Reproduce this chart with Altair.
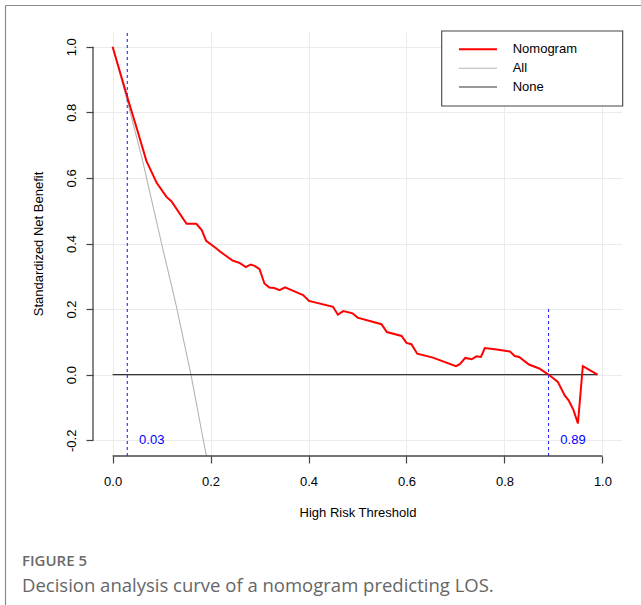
import altair as alt
import pandas as pd

# ---------------- data ----------------
nomo_x = [0.000, 0.032, 0.049, 0.069, 0.090, 0.110, 0.120, 0.151, 0.171, 0.182,
          0.191, 0.212, 0.220, 0.232, 0.245, 0.260, 0.272, 0.282, 0.290, 0.300,
          0.310, 0.320, 0.330, 0.341, 0.352, 0.389, 0.401, 0.450, 0.460, 0.471,
          0.490, 0.500, 0.549, 0.560, 0.590, 0.600, 0.610, 0.622, 0.654, 0.701,
          0.709, 0.720, 0.733, 0.743, 0.752, 0.760, 0.784, 0.811, 0.821, 0.830,
          0.850, 0.871, 0.886, 0.894, 0.909, 0.923, 0.931, 0.941, 0.950, 0.960,
          0.990]
nomo_y = [1.000, 0.837, 0.753, 0.652, 0.585, 0.542, 0.529, 0.460, 0.460, 0.441,
          0.408, 0.385, 0.375, 0.362, 0.348, 0.340, 0.328, 0.336, 0.332, 0.322,
          0.278, 0.266, 0.264, 0.258, 0.266, 0.243, 0.225, 0.207, 0.183, 0.194,
          0.187, 0.174, 0.154, 0.130, 0.118, 0.097, 0.093, 0.064, 0.052, 0.026,
          0.032, 0.051, 0.047, 0.056, 0.054, 0.081, 0.077, 0.071, 0.057, 0.054,
          0.031, 0.019, 0.004, -0.004, -0.022, -0.063, -0.078, -0.108, -0.149, 0.026,
          0.000]

all_x = [0.000, 0.030, 0.060, 0.100, 0.130, 0.160, 0.184, 0.200]
all_y = [1.000, 0.835, 0.660, 0.400, 0.210, 0.000, -0.190, -0.310]

none_x = [0.000, 0.990]
none_y = [0.000, 0.000]

cut_x = [0.03, 0.89]
cut_top = [1.048, 0.2]
cut_label = ["0.03", "0.89"]
cut_label_x = [0.08, 0.94]
cut_label_y = [-0.2, -0.2]

x_ticks = [0.0, 0.2, 0.4, 0.6, 0.8, 1.0]
y_ticks = [-0.2, 0.0, 0.2, 0.4, 0.6, 0.8, 1.0]

series = ["Nomogram", "All", "None"]
series_colors = ["#ff0000", "#b4b4b4", "#333333"]
series_widths = [2.0, 1.1, 1.2]

x_title = "High Risk Threshold"
y_title = "Standardized Net Benefit"
fig_label = "FIGURE 5"
caption = "Decision analysis curve of a nomogram predicting LOS."

# ---------------- layout ----------------
W, H = 529, 425
X_DOM = [-0.04, 1.04]
Y_DOM = [-0.248, 1.048]
FONT = "Arial, Liberation Sans, sans-serif"
AX = "#444444"
LBL = "replace(format(datum.value, '.1f'), '\u2212', '-')"

xs = alt.Scale(domain=X_DOM, nice=False, zero=False)
ys = alt.Scale(domain=Y_DOM, nice=False, zero=False)

xaxis = alt.Axis(values=x_ticks, labelExpr=LBL, title=x_title, domain=False,
                 tickSize=7, tickColor=AX, tickWidth=1.2,
                 grid=True, gridColor="#ebebeb", gridWidth=1,
                 labelFont=FONT, labelFontSize=13, labelColor="#000000",
                 labelPadding=12, labelFlush=False,
                 titleFont=FONT, titleFontSize=13, titleFontWeight="normal",
                 titleColor="#000000", titleY=56, titleBaseline="middle")
yaxis = alt.Axis(values=y_ticks, labelExpr=LBL, title=y_title, domain=False,
                 tickSize=7, tickColor=AX, tickWidth=1.2,
                 grid=True, gridColor="#ebebeb", gridWidth=1,
                 labelFont=FONT, labelFontSize=13, labelColor="#000000",
                 labelAngle=270, labelAlign="center", labelBaseline="bottom",
                 labelPadding=7.5, labelFlush=False,
                 titleFont=FONT, titleFontSize=13, titleFontWeight="normal",
                 titleColor="#000000", titleAngle=270, titleX=-54.5,
                 titleBaseline="middle")

def X(field="x"):
    return alt.X(f"{field}:Q", scale=xs, axis=xaxis)

def Y(field="y"):
    return alt.Y(f"{field}:Q", scale=ys, axis=yaxis)

one = pd.DataFrame({"k": [0]})

layers = []

# frame around the figure
layers.append(alt.Chart(one).mark_rule(color="#8a8a8a", strokeWidth=1.2).encode(
    x=alt.value(-87.5), y=alt.value(-25.5), y2=alt.value(574)))
layers.append(alt.Chart(one).mark_rule(color="#8a8a8a", strokeWidth=1.2).encode(
    x=alt.value(-87.5), x2=alt.value(548), y=alt.value(-25.5)))

# curves
all_df = pd.DataFrame({"x": all_x, "y": all_y})
none_df = pd.DataFrame({"x": none_x, "y": none_y})
nomo_df = pd.DataFrame({"x": nomo_x, "y": nomo_y})

layers.append(alt.Chart(all_df).mark_line(clip=True, color=series_colors[1],
                                          strokeWidth=series_widths[1]).encode(x=X(), y=Y()))
layers.append(alt.Chart(none_df).mark_line(clip=True, color=series_colors[2],
                                           strokeWidth=series_widths[2]).encode(x=X(), y=Y()))
layers.append(alt.Chart(nomo_df).mark_line(clip=True, color=series_colors[0],
                                           strokeWidth=series_widths[0]).encode(x=X(), y=Y()))

# cut-off dashed lines and labels
cut_df = pd.DataFrame({"x": cut_x, "y": [Y_DOM[0]] * len(cut_x), "y2": cut_top})
layers.append(alt.Chart(cut_df).mark_rule(color="#2a2aff", strokeWidth=1.1,
                                          strokeDash=[3, 3]).encode(x=X(), y=Y(), y2="y2:Q"))
lab_df = pd.DataFrame({"x": cut_label_x, "y": cut_label_y, "t": cut_label})
layers.append(alt.Chart(lab_df).mark_text(color="#0000ff", font=FONT, fontSize=13,
                                          align="center", baseline="middle").encode(
    x=X(), y=Y(), text="t:N"))

# axis lines (R style: only over the tick range)
layers.append(alt.Chart(one).mark_rule(color=AX, strokeWidth=1.3).encode(
    x=alt.X(datum=x_ticks[0], scale=xs, axis=xaxis), x2=alt.X2(datum=x_ticks[-1]),
    y=alt.value(H)))
layers.append(alt.Chart(one).mark_rule(color=AX, strokeWidth=1.3).encode(
    y=alt.Y(datum=y_ticks[0], scale=ys, axis=yaxis), y2=alt.Y2(datum=y_ticks[-1]),
    x=alt.value(0)))

# legend box
layers.append(alt.Chart(one).mark_rect(fill="white", stroke="#444444", strokeWidth=1.1).encode(
    x=alt.value(348.7), x2=alt.value(529.7), y=alt.value(0), y2=alt.value(75)))
row_y = [18.3, 37.3, 56.0]
for name, col, sw, ry in zip(series, series_colors, series_widths, row_y):
    layers.append(alt.Chart(one).mark_rule(color=col, strokeWidth=sw).encode(
        x=alt.value(366), x2=alt.value(404), y=alt.value(ry)))
    layers.append(alt.Chart(one).mark_text(text=name, font=FONT, fontSize=13, color="#000000",
                                           align="left", baseline="middle").encode(
        x=alt.value(419.7), y=alt.value(ry)))

# caption
layers.append(alt.Chart(one).mark_text(text=fig_label, font="Open Sans", fontSize=15,
                                       fontWeight=600, color="#6a6a6a", align="left",
                                       baseline="alphabetic").encode(
    x=alt.value(-71), y=alt.value(535)))
layers.append(alt.Chart(one).mark_text(text=caption, font="Open Sans", fontSize=18.5,
                                       color="#666666", align="left",
                                       baseline="alphabetic").encode(
    x=alt.value(-71), y=alt.value(561)))

chart = alt.layer(*layers).properties(
    width=W, height=H,
    autosize=alt.AutoSizeParams(type="none"),
    padding={"left": 93, "top": 31, "right": 19, "bottom": 149},
    background="white",
).configure_view(stroke=None)

chart.save("out.html", embed_options={"renderer": "svg", "actions": False})
